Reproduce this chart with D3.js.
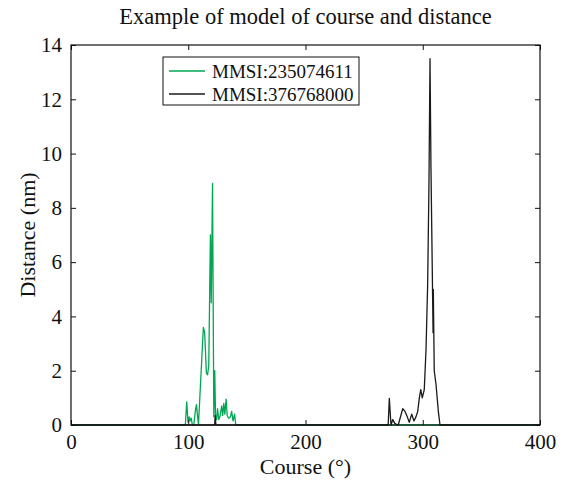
<!DOCTYPE html>
<html>
<head>
<meta charset="utf-8">
<script src="https://cdn.jsdelivr.net/npm/d3@7"></script>
<style>
  body { margin: 0; background: #fff; }
  svg text { font-family: "Liberation Serif", "DejaVu Serif", serif; fill: #111; }
</style>
</head>
<body>
<div class="canvas"></div>
<script>
// series data (course in degrees, distance in nm)
var greenCourse = [0, 97.5, 98.7, 99.8, 100.8, 101.6, 102.5, 103.5, 104.7, 106, 107, 108, 108.7,
    112.9, 114, 115.5, 116.5, 117.5, 118.9, 119.6, 120.7, 121.8, 122.6, 123.3, 124.2, 125, 126,
    127, 128.5, 129.4, 130.3, 131.2, 132.3, 133.2, 134.5, 136, 137, 138.2, 139.5, 140.5, 400];
var greenDist = [0, 0, 0.85, 0.1, 0.3, 0.15, 0.25, 0, 0, 0.5, 0.75, 0.3, 0,
    3.6, 3.4, 1.9, 1.85, 2.2, 7.0, 4.5, 8.9, 0.3, 2.0, 0.3, 0.2, 0.6, 0.2,
    0.3, 0.7, 0.35, 0.8, 0.4, 0.95, 0.35, 0.25, 0.3, 0.5, 0.15, 0.4, 0, 0];

var blackCourse = [0, 122.5, 123, 123.6, 270.5, 271.5, 272.9, 274.4, 276.3, 279.1, 282.9, 284.9,
    286.8, 288.5, 290.6, 292.5, 294.2, 295.7, 297.1, 298.3, 299.6, 301.3, 302.8, 304.2, 305.3,
    306.2, 307, 308.1, 308.8, 309, 309.8, 311.3, 313.3, 314.7, 400];
var blackDist = [0, 0, 0.35, 0, 0, 0.98, 0, 0.2, 0.05, 0, 0.6, 0.5,
    0.3, 0.1, 0.4, 0.15, 0.3, 0.5, 1.0, 1.3, 1.0, 1.3, 2.8, 5.2, 8.9,
    13.5, 9.5, 5.8, 3.4, 5.0, 2.0, 1.5, 0.5, 0, 0];

var seriesNames = ["MMSI:235074611", "MMSI:376768000"];
var seriesColors = ["#00a651", "#1a1a1a"];
var xTicks = [0, 100, 200, 300, 400];
var yTicks = [0, 2, 4, 6, 8, 10, 12, 14];

var width = 565, height = 485;
var margin = {top: 45, right: 25, bottom: 60, left: 71};
var serif = '"Liberation Serif", "DejaVu Serif", serif';

var svg = d3.select(".canvas").append("svg")
    .attr("width", width)
    .attr("height", height);

var x = d3.scaleLinear().domain([0, 400]).range([margin.left, width - margin.right]);
var y = d3.scaleLinear().domain([0, 14]).range([height - margin.bottom, margin.top]);

var series = [
    {name: seriesNames[0], color: seriesColors[0], pts: greenCourse.map((c, i) => [c, greenDist[i]])},
    {name: seriesNames[1], color: seriesColors[1], pts: blackCourse.map((c, i) => [c, blackDist[i]])}
];

var line = d3.line()
    .x(d => x(d[0]))
    .y(d => y(d[1]));

svg.append("g")
    .selectAll("path")
    .data(series)
    .enter().append("path")
    .attr("d", d => line(d.pts))
    .attr("fill", "none")
    .attr("stroke", d => d.color)
    .attr("stroke-width", 1.3)
    .attr("stroke-linejoin", "round");

// axes with inward ticks, mirrored on all four sides
function styleAxis(g) {
    g.attr("font-family", serif);
    g.select(".domain").remove();
    g.selectAll("line").attr("stroke", "#111");
    g.selectAll("text").style("font-size", "21px").style("font-family", serif);
}

svg.append("g")
    .attr("transform", "translate(0," + y(0) + ")")
    .call(d3.axisBottom(x).tickValues(xTicks).tickSize(-5).tickPadding(9))
    .call(styleAxis);

svg.append("g")
    .attr("transform", "translate(0," + y(14) + ")")
    .call(d3.axisTop(x).tickValues(xTicks).tickSize(-5).tickFormat(""))
    .call(styleAxis);

svg.append("g")
    .attr("transform", "translate(" + x(0) + ",0)")
    .call(d3.axisLeft(y).tickValues(yTicks).tickSize(-5).tickPadding(9))
    .call(styleAxis);

svg.append("g")
    .attr("transform", "translate(" + x(400) + ",0)")
    .call(d3.axisRight(y).tickValues(yTicks).tickSize(-5).tickFormat(""))
    .call(styleAxis);

// frame
svg.append("rect")
    .attr("x", x(0))
    .attr("y", y(14))
    .attr("width", x(400) - x(0))
    .attr("height", y(0) - y(14))
    .attr("fill", "none")
    .attr("stroke", "#111")
    .attr("stroke-width", 1.2);

// title and axis labels
svg.append("text")
    .attr("x", (x(0) + x(400)) / 2)
    .attr("y", 24)
    .attr("text-anchor", "middle")
    .style("font-size", "22.5px")
    .text("Example of model of course and distance");

svg.append("text")
    .attr("x", (x(0) + x(400)) / 2)
    .attr("y", 474)
    .attr("text-anchor", "middle")
    .style("font-size", "22px")
    .text("Course (°)");

svg.append("text")
    .attr("transform", "translate(35," + (y(0) + y(14)) / 2 + ") rotate(-90)")
    .attr("text-anchor", "middle")
    .style("font-size", "22px")
    .text("Distance (nm)");

// legend
var legend = svg.append("g").attr("transform", "translate(163,57)");

legend.append("rect")
    .attr("width", 196)
    .attr("height", 48)
    .attr("fill", "#fff")
    .attr("stroke", "#111")
    .attr("stroke-width", 1);

var items = legend.selectAll(".item")
    .data(series)
    .enter().append("g")
    .attr("class", "item")
    .attr("transform", (d, i) => "translate(0," + (14 + i * 23) + ")");

items.append("line")
    .attr("x1", 6)
    .attr("x2", 42)
    .attr("stroke", d => d.color)
    .attr("stroke-width", 1.3);

items.append("text")
    .attr("x", 49)
    .attr("dy", "0.35em")
    .style("font-size", "19px")
    .text(d => d.name);
</script>
</body>
</html>
